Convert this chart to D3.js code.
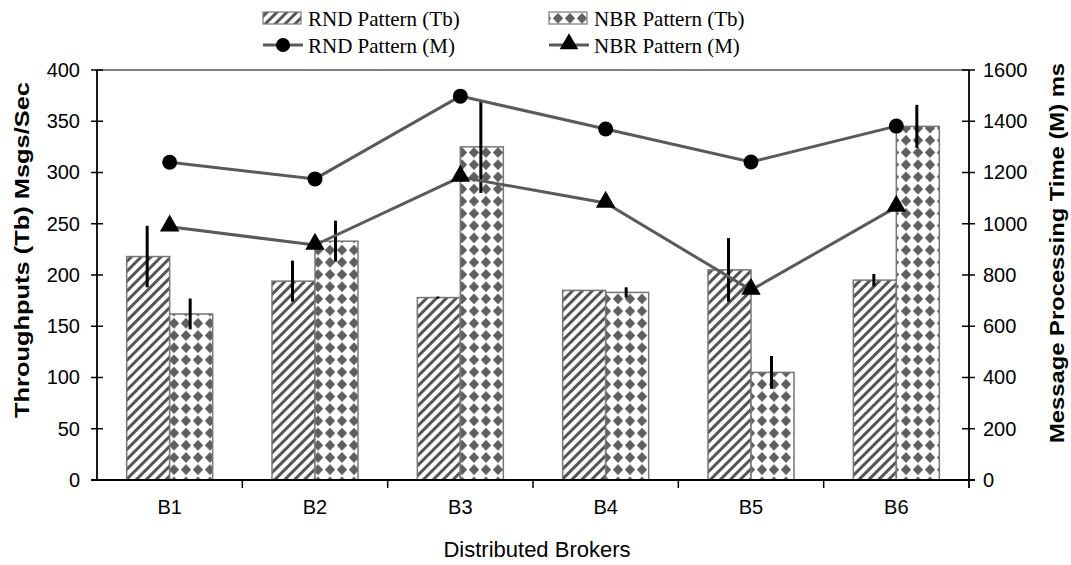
<!DOCTYPE html>
<html>
<head>
<meta charset="utf-8">
<script src="https://cdn.jsdelivr.net/npm/d3@7/dist/d3.min.js"></script>
<style>
  html, body { margin: 0; padding: 0; background: #fff; }
  svg { display: block; }
</style>
</head>
<body>
<svg id="chart" width="1071" height="565"></svg>
<script>
// ---- data ----
const categories = ["B1", "B2", "B3", "B4", "B5", "B6"];
const rndTb = [218, 194, 178, 185, 205, 195];
const nbrTb = [162, 233, 325, 183, 105, 345];
const rndTbErr = [30, 20, 1, 0, 31, 6];
const nbrTbErr = [15, 20, 45, 5, 16, 21];
const rndM = [1240, 1175, 1498, 1370, 1241, 1381];
const nbrM = [988, 917, 1182, 1081, 741, 1065];
const leftTicks = [0, 50, 100, 150, 200, 250, 300, 350, 400];
const rightTicks = [0, 200, 400, 600, 800, 1000, 1200, 1400, 1600];
const seriesNames = ["RND Pattern (Tb)", "NBR Pattern (Tb)", "RND Pattern (M)", "NBR Pattern (M)"];
const xTitle = "Distributed Brokers";
const yLeftTitle = "Throughputs (Tb) Msgs/Sec";
const yRightTitle = "Message Processing Time (M) ms";

// ---- layout ----
const L = 97, R = 969, T = 70, B = 480;
const svg = d3.select("#chart");
const sans = "'Liberation Sans', Arial, sans-serif";
const serif = "'Liberation Serif', 'Times New Roman', serif";

// patterns
const defs = svg.append("defs");
const stripe = defs.append("pattern").attr("id", "stripes")
  .attr("patternUnits", "userSpaceOnUse").attr("width", 7).attr("height", 7)
  .attr("patternTransform", "rotate(45)");
stripe.append("rect").attr("width", 7).attr("height", 7).attr("fill", "#fff");
stripe.append("rect").attr("width", 3).attr("height", 7).attr("fill", "#555");

const dia = defs.append("pattern").attr("id", "diamonds")
  .attr("patternUnits", "userSpaceOnUse").attr("width", 12).attr("height", 12.2);
dia.append("rect").attr("width", 12).attr("height", 12.2).attr("fill", "#fff");
dia.append("path").attr("d", "M6,0.8 L11.2,6.1 L6,11.4 L0.8,6.1 Z").attr("fill", "#5f5f5f");

// scales
const x = d3.scaleBand().domain(categories).range([L, R]).paddingInner(0).paddingOuter(0);
const xSub = d3.scaleBand().domain(["rnd", "nbr"]).range([0, x.bandwidth()]).paddingInner(0).paddingOuter(0.69);
const yL = d3.scaleLinear().domain([0, 400]).range([B, T]);
const yR = d3.scaleLinear().domain([0, 1600]).range([B, T]);

// bars
const barData = [];
categories.forEach((c, i) => {
  barData.push({ c, key: "rnd", v: rndTb[i], e: rndTbErr[i] });
  barData.push({ c, key: "nbr", v: nbrTb[i], e: nbrTbErr[i] });
});
svg.append("g").selectAll("rect").data(barData).join("rect")
  .attr("x", d => x(d.c) + xSub(d.key))
  .attr("y", d => yL(d.v))
  .attr("width", xSub.bandwidth())
  .attr("height", d => yL(0) - yL(d.v))
  .attr("fill", d => d.key === "rnd" ? "url(#stripes)" : "url(#diamonds)")
  .attr("stroke", "#777").attr("stroke-width", 1.5);

// error bars
svg.append("g").selectAll("line").data(barData.filter(d => d.e > 0)).join("line")
  .attr("x1", d => x(d.c) + xSub(d.key) + xSub.bandwidth() / 2 - 1)
  .attr("x2", d => x(d.c) + xSub(d.key) + xSub.bandwidth() / 2 - 1)
  .attr("y1", d => yL(d.v + d.e))
  .attr("y2", d => yL(d.v - d.e))
  .attr("stroke", "#000").attr("stroke-width", 3);

// lines
const cx = c => x(c) + x.bandwidth() / 2;
const line = d3.line().x(d => cx(d.c)).y(d => yR(d.v));
const rndPts = categories.map((c, i) => ({ c, v: rndM[i] }));
const nbrPts = categories.map((c, i) => ({ c, v: nbrM[i] }));
svg.append("path").datum(rndPts).attr("d", line).attr("fill", "none").attr("stroke", "#5a5a5a").attr("stroke-width", 3);
svg.append("path").datum(nbrPts).attr("d", line).attr("fill", "none").attr("stroke", "#5a5a5a").attr("stroke-width", 3);
svg.append("g").selectAll("circle").data(rndPts).join("circle")
  .attr("cx", d => cx(d.c)).attr("cy", d => yR(d.v)).attr("r", 7.5).attr("fill", "#000");
const tri = d3.symbol().type(d3.symbolTriangle).size(165);
svg.append("g").selectAll("path").data(nbrPts).join("path")
  .attr("d", tri).attr("transform", d => `translate(${cx(d.c)},${yR(d.v) - 1})`).attr("fill", "#000");

// axes
const axL = svg.append("g").attr("transform", `translate(${L},0)`)
  .call(d3.axisLeft(yL).tickValues(leftTicks).tickSize(0).tickPadding(17).tickFormat(d3.format("d")));
const axR = svg.append("g").attr("transform", `translate(${R},0)`)
  .call(d3.axisRight(yR).tickValues(rightTicks).tickSize(0).tickPadding(14).tickFormat(d3.format("d")));
const axB = svg.append("g").attr("transform", `translate(0,${B})`)
  .call(d3.axisBottom(x).tickSize(0).tickPadding(20));
[axL, axR, axB].forEach(a => {
  a.select(".domain").remove();
  a.selectAll("text").attr("font-family", sans).attr("font-size", 20).attr("fill", "#000");
});
axB.selectAll("text").attr("dy", "0.71em");
// tick marks crossing the axes
svg.append("g").selectAll("line").data(leftTicks).join("line")
  .attr("x1", L - 6).attr("x2", L + 6).attr("y1", d => yL(d)).attr("y2", d => yL(d))
  .attr("stroke", "#000").attr("stroke-width", 1.5);
svg.append("g").selectAll("line").data(rightTicks).join("line")
  .attr("x1", R - 7).attr("x2", R + 6).attr("y1", d => yR(d)).attr("y2", d => yR(d))
  .attr("stroke", "#000").attr("stroke-width", 1.5);
svg.append("g").selectAll("line").data(categories.slice(1)).join("line")
  .attr("x1", d => x(d)).attr("x2", d => x(d)).attr("y1", B).attr("y2", B + 8)
  .attr("stroke", "#000").attr("stroke-width", 1.5);
// frame lines
svg.append("line").attr("x1", L).attr("x2", L).attr("y1", T).attr("y2", B).attr("stroke", "#000").attr("stroke-width", 1.8);
svg.append("line").attr("x1", R).attr("x2", R).attr("y1", T).attr("y2", B + 8).attr("stroke", "#000").attr("stroke-width", 1.8);
svg.append("line").attr("x1", L - 6).attr("x2", R + 6).attr("y1", B).attr("y2", B).attr("stroke", "#000").attr("stroke-width", 1.8);
svg.append("line").attr("x1", L).attr("x2", R).attr("y1", T).attr("y2", T).attr("stroke", "#000").attr("stroke-width", 1.2);

// axis titles
svg.append("text").attr("x", 537).attr("y", 557).attr("text-anchor", "middle")
  .attr("font-family", sans).attr("font-size", 22).text(xTitle);
svg.append("text").attr("transform", "translate(29,250) rotate(-90)").attr("text-anchor", "middle")
  .attr("font-family", sans).attr("font-size", 20).attr("font-weight", "bold")
  .attr("textLength", 336).attr("lengthAdjust", "spacingAndGlyphs").text(yLeftTitle);
svg.append("text").attr("transform", "translate(1064,253) rotate(-90)").attr("text-anchor", "middle")
  .attr("font-family", sans).attr("font-size", 20).attr("font-weight", "bold")
  .attr("textLength", 380).attr("lengthAdjust", "spacingAndGlyphs").text(yRightTitle);

// legend
const lg = svg.append("g");
const legendItems = [
  { name: seriesNames[0], kind: "bar", fill: "url(#stripes)", x: 263, y: 18 },
  { name: seriesNames[1], kind: "bar", fill: "url(#diamonds)", x: 549, y: 18 },
  { name: seriesNames[2], kind: "circle", x: 263, y: 45 },
  { name: seriesNames[3], kind: "tri", x: 549, y: 45 }
];
legendItems.forEach(it => {
  if (it.kind === "bar") {
    lg.append("rect").attr("x", it.x).attr("y", it.y - 6).attr("width", 38).attr("height", 12)
      .attr("fill", it.fill).attr("stroke", "#777").attr("stroke-width", 1.2);
  } else {
    lg.append("line").attr("x1", it.x).attr("x2", it.x + 40).attr("y1", it.y).attr("y2", it.y)
      .attr("stroke", "#5a5a5a").attr("stroke-width", 3);
    if (it.kind === "circle") {
      lg.append("circle").attr("cx", it.x + 20).attr("cy", it.y).attr("r", 7).attr("fill", "#000");
    } else {
      lg.append("path").attr("d", d3.symbol().type(d3.symbolTriangle).size(150))
        .attr("transform", `translate(${it.x + 20},${it.y - 1})`).attr("fill", "#000");
    }
  }
  lg.append("text").attr("x", it.x + 45).attr("y", it.y + 8)
    .attr("font-family", serif).attr("font-size", 21).attr("fill", "#000").text(it.name);
});
</script>
</body>
</html>
